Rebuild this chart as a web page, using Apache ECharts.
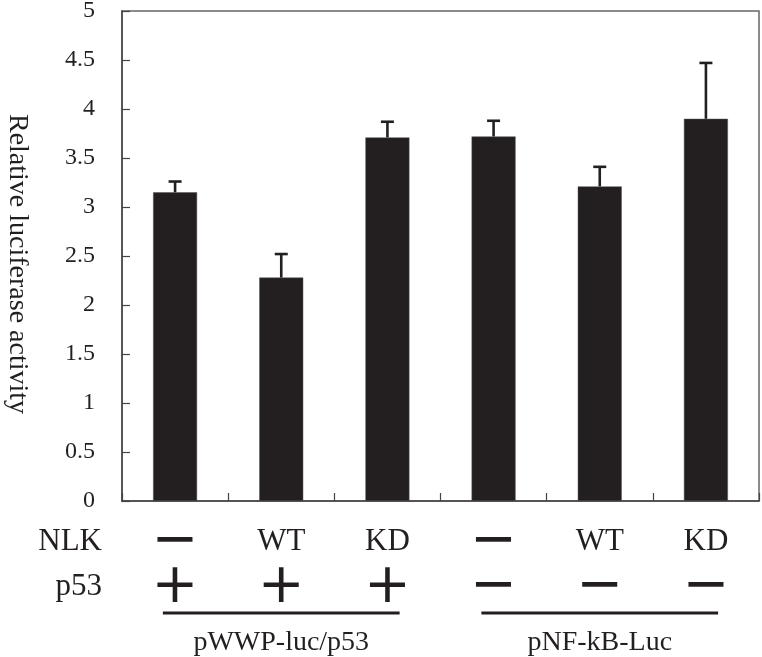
<!DOCTYPE html>
<html>
<head>
<meta charset="utf-8">
<script src="https://cdn.jsdelivr.net/npm/echarts@6/dist/echarts.min.js"></script>
<style>
  html, body { margin: 0; padding: 0; background: #fff; }
  #chart { width: 762px; height: 657px; }
</style>
</head>
<body>
<div id="chart"></div>
<script>
// ---- data ----
var categories = ['c1', 'c2', 'c3', 'c4', 'c5', 'c6'];
var values = [3.15, 2.28, 3.71, 3.72, 3.21, 3.90];
var errors = [0.11, 0.24, 0.16, 0.16, 0.20, 0.57];
var nlkRow = ['\u2212', 'WT', 'KD', '\u2212', 'WT', 'KD'];
var p53Row = ['+', '+', '+', '\u2212', '\u2212', '\u2212'];
var rowNames = ['NLK', 'p53'];
var groupLabels = ['pWWP-luc/p53', 'pNF-kB-Luc'];
var groupStart = [0, 3];
var groupEnd = [2, 5];
var yTicks = { min: 0, max: 5, interval: 0.5 };
var yName = 'Relative luciferase activity';

// ---- styles ----
var ink = '#231f20';
var serif = '"Liberation Serif", "Times New Roman", serif';
var richRow = {
  sym: { fontFamily: '"DejaVu Sans"', fontSize: 56, color: ink },
  txt: { fontFamily: serif, fontSize: 31, color: ink }
};
function rowFormatter(v) {
  if (v === '+' || v === '\u2212') return '{sym|' + v + '}';
  return '{txt|' + v + '}';
}

var chart = echarts.init(document.getElementById('chart'), null, { renderer: 'canvas' });

var errData = values.map(function (v, i) { return [i, v, errors[i]]; });
var groupData = groupLabels.map(function (g, i) { return [groupStart[i], groupEnd[i], i]; });

var option = {
  animation: false,
  backgroundColor: '#fff',
  grid: {
    left: 122, top: 11, right: 3, bottom: 156,
    outerBoundsMode: 'none', containLabel: false,
    show: true, borderColor: '#666', borderWidth: 1.5, backgroundColor: 'transparent'
  },
  xAxis: [
    {
      type: 'category', data: categories, gridIndex: 0, position: 'bottom',
      axisLine: { lineStyle: { color: '#444', width: 1.5 } },
      axisTick: { show: true, inside: true, length: 8, lineStyle: { color: '#444', width: 1.2 } },
      axisLabel: { show: false }
    },
    {
      type: 'category', data: nlkRow, gridIndex: 0, position: 'bottom', offset: 41,
      axisLine: { show: false }, axisTick: { show: false },
      axisLabel: { interval: 0, margin: 0, verticalAlign: 'middle', formatter: rowFormatter, rich: richRow },
      name: rowNames[0], nameLocation: 'start', nameGap: 20,
      nameTextStyle: { fontFamily: serif, fontSize: 31, color: ink, verticalAlign: 'middle' }
    },
    {
      type: 'category', data: p53Row, gridIndex: 0, position: 'bottom', offset: 86,
      axisLine: { show: false }, axisTick: { show: false },
      axisLabel: { interval: 0, margin: 0, verticalAlign: 'middle', formatter: rowFormatter, rich: richRow },
      name: rowNames[1], nameLocation: 'start', nameGap: 20,
      nameTextStyle: { fontFamily: serif, fontSize: 31, color: ink, verticalAlign: 'middle' }
    }
  ],
  yAxis: {
    type: 'value', min: yTicks.min, max: yTicks.max, interval: yTicks.interval,
    axisLine: { show: true, lineStyle: { color: '#444', width: 1.5 } },
    axisTick: { show: true, inside: true, length: 8, lineStyle: { color: '#444', width: 1.2 } },
    splitLine: { show: false },
    axisLabel: { margin: 27, fontFamily: serif, fontSize: 24, color: ink },
    name: yName, nameLocation: 'middle', nameRotate: -90, nameGap: 91,
    nameTextStyle: { fontFamily: serif, fontSize: 28, color: ink, padding: [0, 0, 0, 16] }
  },
  series: [
    {
      type: 'bar', data: values, barWidth: 44,
      itemStyle: { color: ink, borderColor: '#555', borderWidth: 0.5 },
      z: 2
    },
    {
      type: 'custom', data: errData, z: 3, clip: false,
      renderItem: function (params, api) {
        var i = api.value(0);
        var top = api.coord([i, api.value(1)]);
        var cap = api.coord([i, api.value(1) + api.value(2)]);
        var hw = 6.5;
        var st = { stroke: ink, lineWidth: 2.6 };
        return {
          type: 'group',
          children: [
            { type: 'line', shape: { x1: top[0], y1: top[1], x2: cap[0], y2: cap[1] }, style: st },
            { type: 'line', shape: { x1: cap[0] - hw, y1: cap[1], x2: cap[0] + hw, y2: cap[1] }, style: st }
          ]
        };
      }
    },
    {
      type: 'custom', data: groupData, z: 3, clip: false, silent: true,
      renderItem: function (params, api) {
        var a = api.coord([api.value(0), 0]);
        var b = api.coord([api.value(1), 0]);
        var bw = api.size([1, 0])[0];
        var ext = 0.115 * bw;
        var yLine = a[1] + 112;
        var yText = a[1] + 142;
        var label = groupLabels[api.value(2)];
        return {
          type: 'group',
          children: [
            { type: 'line', shape: { x1: a[0] - ext, y1: yLine, x2: b[0] + ext, y2: yLine },
              style: { stroke: ink, lineWidth: 3 } },
            { type: 'text', style: { text: label, x: (a[0] + b[0]) / 2, y: yText,
              align: 'center', verticalAlign: 'middle', fill: ink,
              font: '28px ' + serif } }
          ]
        };
      }
    }
  ]
};
chart.setOption(option);
</script>
</body>
</html>
